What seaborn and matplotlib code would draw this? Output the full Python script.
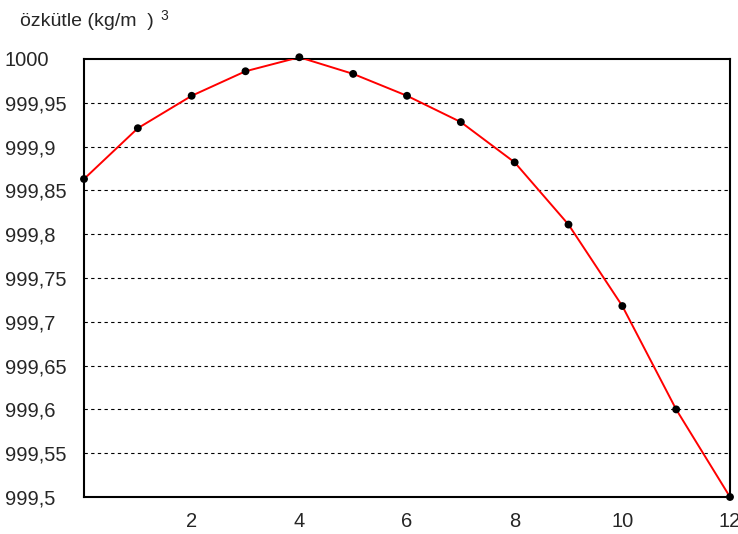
import numpy as np
import pandas as pd
import seaborn as sns
import matplotlib
matplotlib.use("Agg")
import matplotlib.pyplot as plt

# su yogunlugu - sicaklik
sicaklik = [0, 1, 2, 3, 4, 5, 6, 7, 8, 9, 10, 11, 12]
ozkutle = [999.863, 999.921, 999.958, 999.986, 1000.002, 999.983, 999.958,
           999.928, 999.882, 999.811, 999.718, 999.600, 999.500]
y_ticks = [999.5, 999.55, 999.6, 999.65, 999.7, 999.75, 999.8, 999.85, 999.9, 999.95, 1000]
y_labels = ["999,5", "999,55", "999,6", "999,65", "999,7", "999,75", "999,8",
            "999,85", "999,9", "999,95", "1000"]
x_ticks = [2, 4, 6, 8, 10, 12]

df = pd.DataFrame({"T": sicaklik, "rho": ozkutle})

sns.set_style("white")
plt.rcParams["font.family"] = ["Liberation Sans", "DejaVu Sans"]

fig = plt.figure(figsize=(7.38, 5.34), dpi=100)
ax = fig.add_axes([84 / 738, 1 - 497 / 534, (730 - 84) / 738, (497 - 59) / 534])

sns.lineplot(data=df, x="T", y="rho", color="red", linewidth=1.4, ax=ax, zorder=3)
sns.scatterplot(data=df, x="T", y="rho", color="black", s=32, edgecolor="none",
                ax=ax, zorder=4, clip_on=False)

ax.set_xlim(0, 12)
ax.set_ylim(999.5, 1000)
ax.set_xticks(x_ticks)
ax.set_xticklabels([str(t) for t in x_ticks], fontsize=14.5)
ax.set_yticks(y_ticks)
ax.set_yticklabels(y_labels, fontsize=14.5, ha="left")
ax.tick_params(axis="both", length=0)
ax.tick_params(axis="y", pad=57)
ax.tick_params(axis="x", pad=11)
ax.set_xlabel("")
ax.set_ylabel("")

for y in y_ticks[1:-1]:
    ax.axhline(y, color="black", linestyle=(0, (3, 3)), linewidth=0.8, zorder=1)

for s in ax.spines.values():
    s.set_color("black")
    s.set_linewidth(1.5)

fig.text(20 / 738, 1 - 22 / 534, "özkütle (kg/m  )", fontsize=14, va="center", ha="left")
fig.text(160 / 738, 1 - 16 / 534, "3", fontsize=10, va="center", ha="left")

fig.savefig("out.png", dpi=100)
